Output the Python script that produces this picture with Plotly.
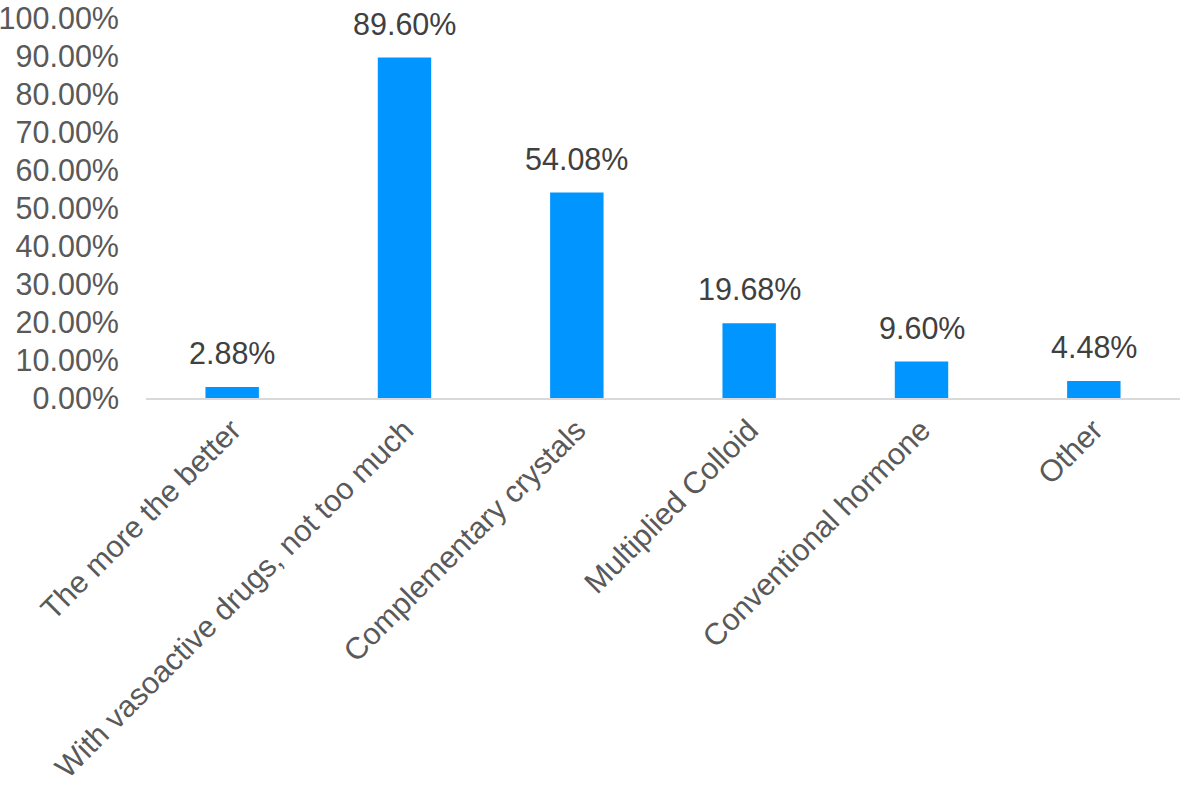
import plotly.graph_objects as go

categories = ["The more the better", "With vasoactive drugs, not too much",
              "Complementary crystals", "Multiplied Colloid",
              "Conventional hormone", "Other"]
values = [2.88, 89.60, 54.08, 19.68, 9.60, 4.48]
tick_vals = [0, 10, 20, 30, 40, 50, 60, 70, 80, 90, 100]
tick_text = [f"{v:.2f}%" for v in tick_vals]
value_labels = [f"{v:.2f}%" for v in values]

FONT = "Liberation Sans, Arial, sans-serif"
FS = 30.5

fig = go.Figure()
fig.add_trace(go.Bar(
    x=categories, y=values,
    marker=dict(color="#0095FF", line=dict(width=0)),
    width=0.31,
))

for c, v, t in zip(categories, values, value_labels):
    fig.add_annotation(x=c, y=v, text=t, showarrow=False, yanchor="bottom",
                       yshift=15, font=dict(family=FONT, size=FS, color="#404040"))

fig.update_layout(
    width=1184, height=788,
    margin=dict(l=146, r=4, t=18, b=390),
    plot_bgcolor="white", paper_bgcolor="white",
    showlegend=False,
    font=dict(family=FONT, size=FS, color="#595959"),
)
fig.update_xaxes(
    tickangle=-45, showline=True, linecolor="#D9D9D9", linewidth=2,
    ticks="", showgrid=False, automargin=False,
    tickfont=dict(family=FONT, size=FS, color="#595959"),
)
fig.update_yaxes(
    range=[0, 100], tickvals=tick_vals, ticktext=tick_text,
    showgrid=False, zeroline=False, showline=False, ticks="",
    automargin=False, ticklabelstandoff=26, ticklabeloverflow="allow",
    tickfont=dict(family=FONT, size=FS, color="#595959"),
)

fig.write_html("out.html", config={"displayModeBar": False},
               post_script="document.body.style.margin='0';document.body.style.overflow='hidden';")
